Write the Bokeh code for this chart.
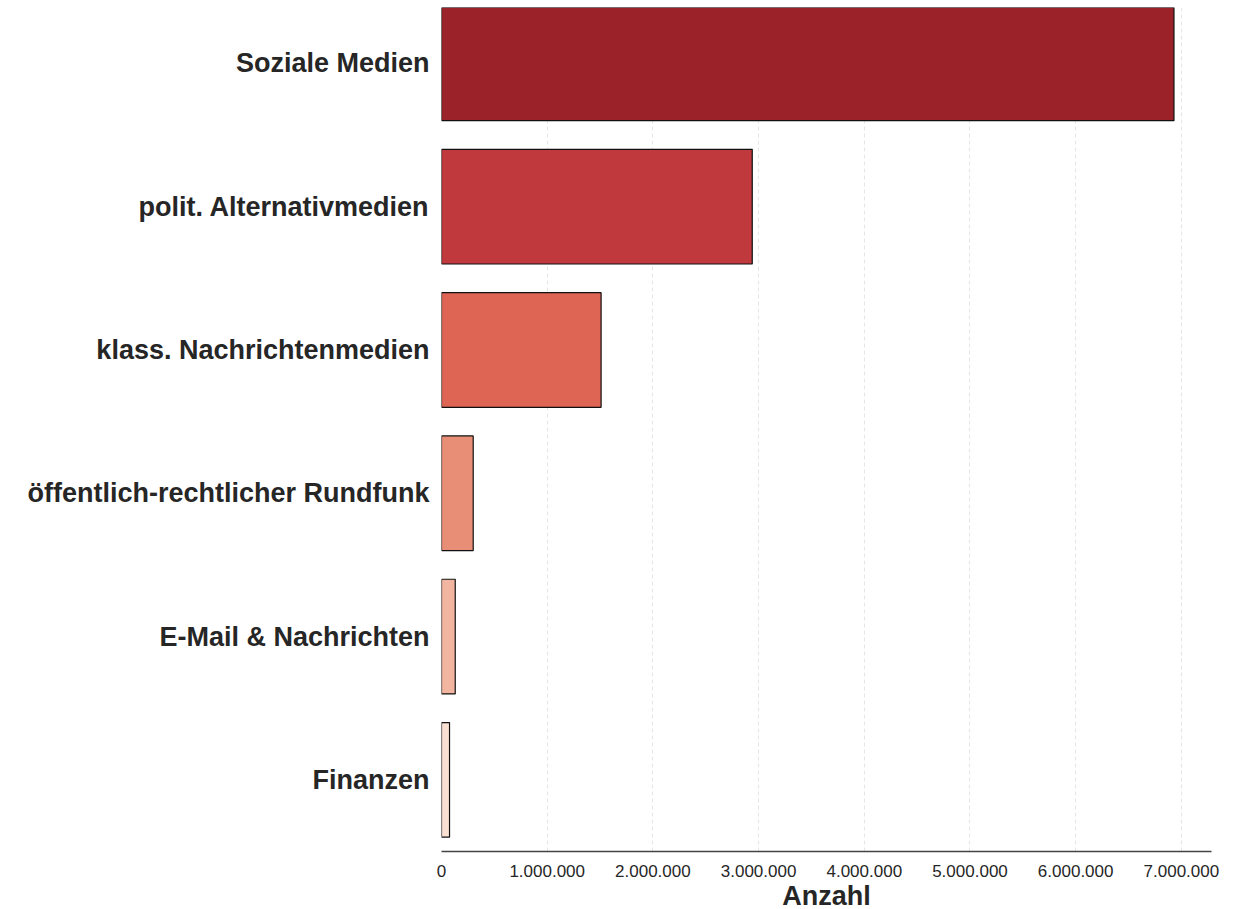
from bokeh.plotting import figure
from bokeh.models import Range1d, FixedTicker
from bokeh.embed import file_html
from bokeh.resources import INLINE

categories = ["Soziale Medien", "polit. Alternativmedien", "klass. Nachrichtenmedien",
              "öffentlich-rechtlicher Rundfunk", "E-Mail & Nachrichten", "Finanzen"]
values = [6930000, 2940000, 1510000, 300000, 130000, 76000]
colors = ["#9B2229", "#C0393C", "#DE6454", "#E88E76", "#F2B5A0", "#FADFD3"]
x_ticks = [0, 1000000, 2000000, 3000000, 4000000, 5000000, 6000000, 7000000]
x_tick_labels = ["0", "1.000.000", "2.000.000", "3.000.000", "4.000.000", "5.000.000", "6.000.000", "7.000.000"]

n = len(categories)
ypos = [n - i - 0.5 for i in range(n)]

p = figure(output_backend="svg", toolbar_location=None,
           frame_width=770, frame_height=844,
           x_range=Range1d(0, 7285000), y_range=Range1d(0, 5.89),
           min_border_left=441, min_border_top=7, min_border_right=29, min_border_bottom=50)
p.outline_line_color = None
p.background_fill_color = "white"

p.hbar(y=ypos, right=values, left=0, height=0.8, fill_color=colors,
       line_color="#111111", line_width=1.2)

# x axis
p.xaxis.ticker = FixedTicker(ticks=x_ticks)
p.xaxis.major_label_overrides = {t: l for t, l in zip(x_ticks, x_tick_labels)}
p.xaxis.axis_label = "Anzahl"
p.xaxis.axis_label_text_font = "Liberation Sans"
p.xaxis.axis_label_text_font_style = "bold"
p.xaxis.axis_label_text_font_size = "27px"
p.xaxis.axis_label_text_color = "#262626"
p.xaxis.axis_label_standoff = 1
p.xaxis.major_label_text_font = "Liberation Sans"
p.xaxis.major_label_text_font_size = "17px"
p.xaxis.major_label_text_color = "#262626"
p.xaxis.major_label_standoff = 7
p.xaxis.major_tick_line_color = None
p.xaxis.minor_tick_line_color = None
p.xaxis.axis_line_color = "#444444"
p.xaxis.axis_line_width = 1.5

# y axis
p.yaxis.ticker = FixedTicker(ticks=ypos)
p.yaxis.major_label_overrides = {y: c for y, c in zip(ypos, categories)}
p.yaxis.major_label_text_font = "Liberation Sans"
p.yaxis.major_label_text_font_style = "bold"
p.yaxis.major_label_text_font_size = "27px"
p.yaxis.major_label_text_color = "#262626"
p.yaxis.major_label_standoff = 6
p.yaxis.major_tick_line_color = None
p.yaxis.minor_tick_line_color = None
p.yaxis.axis_line_color = None

# grid
p.ygrid.grid_line_color = None
p.xgrid.grid_line_color = "#E6E6E6"
p.xgrid.grid_line_dash = "4 3"
p.xgrid.grid_line_width = 1

open("out.html", "w").write(file_html(p, INLINE))
